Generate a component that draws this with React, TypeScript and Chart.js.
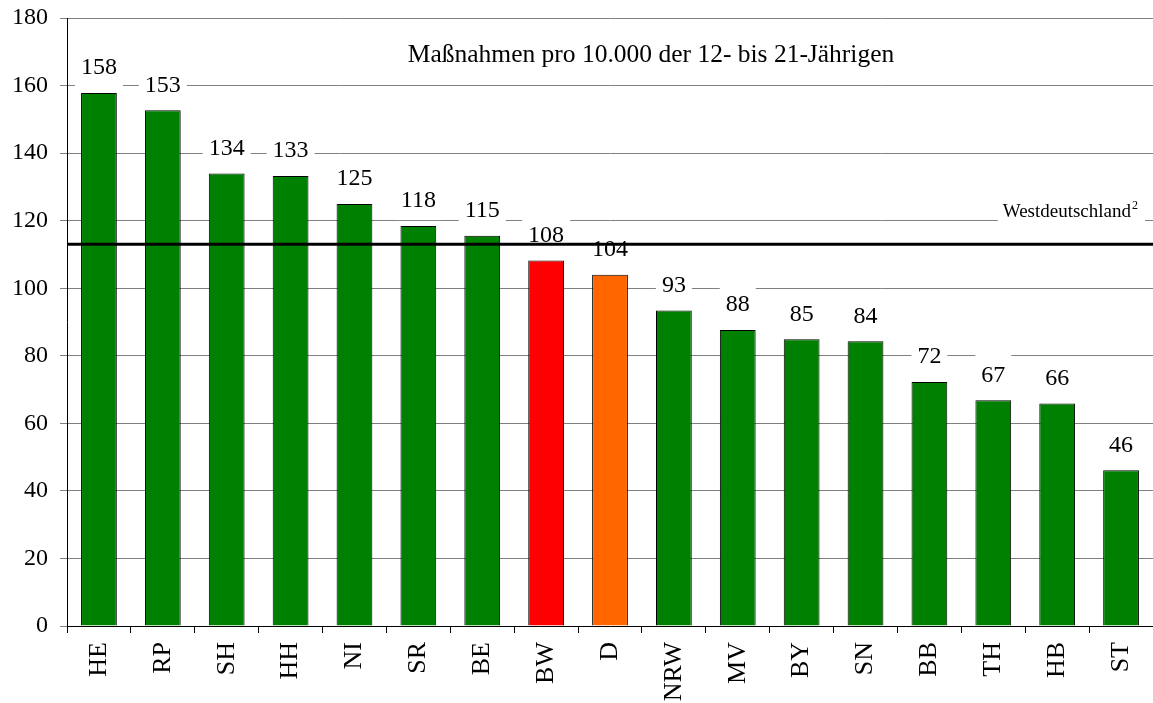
import React, { useEffect, useRef } from "react";
import { Chart, registerables } from "chart.js";

Chart.register(...registerables);

const categories = ["HE", "RP", "SH", "HH", "NI", "SR", "BE", "BW", "D", "NRW", "MV", "BY", "SN", "BB", "TH", "HB", "ST"];
const values = [157.8, 152.7, 134, 133.2, 124.9, 118.4, 115.5, 108.2, 104, 93.4, 87.6, 84.9, 84.3, 72.2, 66.8, 65.9, 46.1];
const valueLabels = ["158", "153", "134", "133", "125", "118", "115", "108", "104", "93", "88", "85", "84", "72", "67", "66", "46"];
const barColors = ["#008000", "#008000", "#008000", "#008000", "#008000", "#008000", "#008000", "#FF0000", "#FF6600", "#008000", "#008000", "#008000", "#008000", "#008000", "#008000", "#008000", "#008000"];
const westValue = 113;
const westLabel = "Westdeutschland";
const westSup = "2";
const titleText = "Maßnahmen pro 10.000 der 12- bis 21-Jährigen";
const yMin = 0;
const yMax = 180;
const yStep = 20;

const FONT = "'Liberation Serif', 'Times New Roman', serif";

const overlayPlugin = {
  id: "overlay",
  afterDatasetsDraw(chart: any) {
    const ctx = chart.ctx;
    const meta = chart.getDatasetMeta(0);
    const area = chart.chartArea;
    ctx.save();
    ctx.font = `24px ${FONT}`;
    ctx.textAlign = "center";
    ctx.textBaseline = "middle";
    meta.data.forEach((bar: any, i: number) => {
      const txt = valueLabels[i];
      const w = ctx.measureText(txt).width;
      const cx = bar.x;
      const cy = bar.y - 26;
      ctx.fillStyle = "#ffffff";
      ctx.fillRect(cx - w / 2 - 6, cy - 20, w + 12, 40);
      ctx.fillStyle = "#000000";
      ctx.fillText(txt, cx, cy + 1);
    });
    // title
    ctx.font = `25.5px ${FONT}`;
    ctx.fillStyle = "#000000";
    ctx.fillText(titleText, 651, area.top + 37);

    // Westdeutschland label
    const ys = chart.scales.y;
    const ly = ys.getPixelForValue(westValue);
    ctx.font = `19px ${FONT}`;
    const w1 = ctx.measureText(westLabel).width;
    ctx.font = `12px ${FONT}`;
    const w2 = ctx.measureText(westSup).width;
    const right = 1138;
    const left = right - w1 - w2 - 1;
    const cy = ly - 32;
    ctx.fillStyle = "#ffffff";
    ctx.fillRect(left - 5, cy - 14, w1 + w2 + 13, 26);
    ctx.fillStyle = "#000000";
    ctx.textAlign = "left";
    ctx.font = `19px ${FONT}`;
    ctx.fillText(westLabel, left, cy);
    ctx.font = `12px ${FONT}`;
    ctx.fillText(westSup, left + w1 + 1, cy - 6);

    // Westdeutschland line
    ctx.strokeStyle = "#000000";
    ctx.lineWidth = 3;
    ctx.beginPath();
    ctx.moveTo(area.left, ly);
    ctx.lineTo(area.right, ly);
    ctx.stroke();
    ctx.restore();
  },
};

export default function App() {
  const ref = useRef<HTMLCanvasElement | null>(null);
  useEffect(() => {
    document.body.style.margin = "0";
    if (!ref.current) return;
    const chart = new Chart(ref.current, {
      type: "bar",
      data: {
        labels: categories,
        datasets: [
          {
            data: values,
            backgroundColor: barColors,
            borderColor: "#000000",
            borderWidth: 1,
            inflateAmount: 0,
            barPercentage: 0.56,
            categoryPercentage: 1,
          },
        ],
      },
      options: {
        animation: false,
        responsive: false,
        maintainAspectRatio: false,
        layout: { padding: { top: 18, right: 0, left: 0, bottom: 0 } },
        plugins: { legend: { display: false }, tooltip: { enabled: false }, title: { display: false } },
        scales: {
          x: {
            offset: true,
            grid: { display: true, offset: true, drawOnChartArea: false, tickLength: 7, color: "#000000" },
            border: { color: "#000000", width: 1 },
            ticks: {
              minRotation: 90,
              maxRotation: 90,
              autoSkip: false,
              padding: 9,
              color: "#000000",
              font: { family: FONT, size: 26 },
            },
            afterFit: (s: any) => {
              s.height = 77;
              s.paddingLeft = 0;
              s.paddingRight = 0;
            },
          },
          y: {
            min: yMin,
            max: yMax,
            grid: { color: "#808080", lineWidth: 1, tickLength: 7 },
            border: { color: "#000000", width: 1 },
            ticks: {
              stepSize: yStep,
              padding: 12,
              color: "#000000",
              font: { family: FONT, size: 24 },
            },
            afterFit: (s: any) => {
              s.width = 67;
              s.paddingTop = 0;
              s.paddingBottom = 0;
            },
          },
        },
      },
      plugins: [overlayPlugin],
    });
    return () => chart.destroy();
  }, []);
  return (
    <div style={{ position: "absolute", left: 0, top: 0, width: 1153, height: 703 }}>
      <canvas ref={ref} width={1153} height={703} style={{ width: 1153, height: 703, display: "block" }} />
    </div>
  );
}
